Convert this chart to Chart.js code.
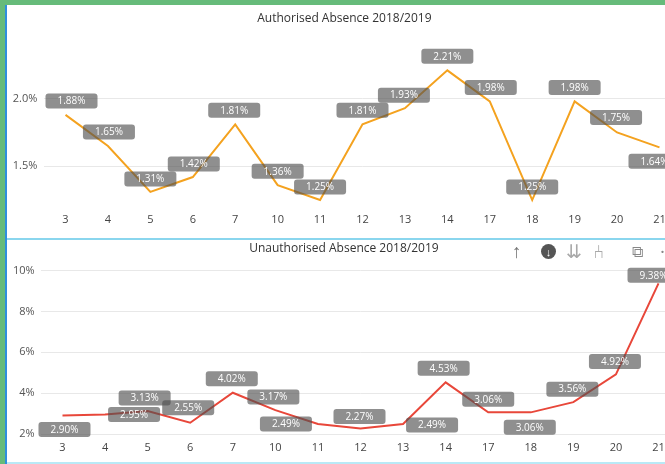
<!DOCTYPE html>
<html>
<head>
<meta charset="utf-8">
<script src="https://cdn.jsdelivr.net/npm/chart.js@4.4.1/dist/chart.umd.min.js"></script>
<style>
    html, body { margin: 0; padding: 0; width: 665px; height: 464px; overflow: hidden; background: #fff; }
    body { position: relative; font-family: "Open Sans", sans-serif; }
    .bar { position: absolute; }
    #frame-top { left: 0; top: 0; width: 665px; height: 5px; background: #66bb7a; }
    #frame-left { left: 0; top: 0; width: 5px; height: 464px; background: #66bb7a; }
    #edge-blue { left: 5px; top: 5px; width: 2px; height: 459px; background: #2f8fdd; }
    #sep { left: 7px; top: 238px; width: 658px; height: 2px; background: #8ad6ee; }
    #foot { left: 7px; top: 462px; width: 658px; height: 2px; background: #b9e9f6; }
    .panel { position: absolute; left: 8px; width: 676px; }
    #top-panel { top: 6px; height: 232px; }
    #bottom-panel { top: 241px; height: 221px; }
    .icon { position: absolute; top: 240px; font-size: 19px; color: #a8a8a8; line-height: 22px; }
    #ic-down { width: 15px; height: 15px; border-radius: 50%; background: #555; color: #fff;
               font-size: 11px; font-weight: bold; line-height: 15px; text-align: center; top: 244px; }
</style>
</head>
<body>
<div class="panel" id="top-panel"><canvas id="topChart"></canvas></div>
<div class="panel" id="bottom-panel"><canvas id="bottomChart"></canvas></div>
<div class="bar" id="frame-top"></div>
<div class="bar" id="frame-left"></div>
<div class="bar" id="edge-blue"></div>
<div class="bar" id="sep"></div>
<div class="bar" id="foot"></div>
<span class="icon" style="left:512px;color:#777">↑</span>
<span class="icon" id="ic-down" style="left:541px">↓</span>
<span class="icon" style="left:566px">⇊</span>
<span class="icon" style="left:593px">⑃</span>
<span class="icon" style="left:632px;color:#888;font-size:16px">⧉</span>
<span class="icon" style="left:660px;color:#888">·</span>
<script>
const weeks = ["3", "4", "5", "6", "7", "10", "11", "12", "13", "14", "17", "18", "19", "20", "21"];
const authorised = [1.88, 1.65, 1.31, 1.42, 1.81, 1.36, 1.25, 1.81, 1.93, 2.21, 1.98, 1.25, 1.98, 1.75, 1.64];
const unauthorised = [2.90, 2.95, 3.13, 2.55, 4.02, 3.17, 2.49, 2.27, 2.49, 4.53, 3.06, 3.06, 3.56, 4.92, 9.38];
const topTicks = [1.5, 2.0];
const bottomTicks = [2, 4, 6, 8, 10];

// where each value box sits relative to its point (px)
const topShifts = [[6,-14],[1,-14],[0,-13],[1,-13],[-1,-14],[0,-14],[0,-13],[0,-14],[-1,-13],[0,-14],[1,-14],[0,-13],[0,-14],[-1,-15],[-5,14]];
const bottomShifts = [[2,14],[29,0],[-3,-13],[-2,-15],[-1,-14],[-2,-13],[-32,0],[-1,-12],[29,1],[-2,-14],[0,-13],[-1,15],[-1,-13],[-1,-13],[-5,-8]];

Chart.defaults.font.family = "'Open Sans', sans-serif";
Chart.defaults.animation = false;

const boxLabels = {
    id: "boxLabels",
    afterDatasetsDraw(chart, args, opts) {
        const ctx = chart.ctx;
        const meta = chart.getDatasetMeta(0);
        const values = chart.data.datasets[0].data;
        ctx.save();
        ctx.font = "10px 'Open Sans'";
        ctx.textAlign = "center";
        ctx.textBaseline = "middle";
        meta.data.forEach((pt, i) => {
            const [dx, dy] = opts.shifts[i];
            const cx = pt.x + dx, cy = pt.y + dy;
            ctx.fillStyle = "rgba(80,80,80,0.64)";
            ctx.beginPath();
            ctx.roundRect(cx - 26, cy - 7.5, 52, 15, 3);
            ctx.fill();
            ctx.fillStyle = "#fff";
            ctx.fillText(values[i].toFixed(2) + "%", cx, cy + 0.5);
        });
        ctx.restore();
    }
};

function makeChart(id, opts) {
    return new Chart(document.getElementById(id), {
        type: "line",
        data: {
            labels: weeks,
            datasets: [{
                data: opts.values,
                borderColor: opts.color,
                borderWidth: 2,
                pointRadius: 0,
                tension: 0
            }]
        },
        options: {
            responsive: true,
            maintainAspectRatio: false,
            layout: { padding: { left: 0, right: opts.padRight, top: 0, bottom: opts.padBottom } },
            scales: {
                x: {
                    offset: true,
                    grid: { display: false, drawTicks: false },
                    border: { display: false },
                    ticks: { color: "#444", font: { size: 11 }, padding: opts.xPad, maxRotation: 0, autoSkip: false }
                },
                y: {
                    min: opts.min,
                    max: opts.max,
                    afterBuildTicks: s => { s.ticks = opts.ticks.map(v => ({ value: v })); },
                    afterFit: s => { s.width = opts.axisWidth; },
                    grid: { color: "#e8e8e8", drawTicks: false },
                    border: { display: false },
                    ticks: { color: "#555", font: { size: 11 }, padding: opts.yPad, callback: opts.fmt }
                }
            },
            plugins: {
                legend: { display: false },
                tooltip: { enabled: false },
                title: {
                    display: true,
                    text: opts.title,
                    color: "#333",
                    font: { size: 12, weight: "normal" },
                    padding: opts.titlePad
                },
                boxLabels: { shifts: opts.shifts }
            }
        },
        plugins: [boxLabels]
    });
}

makeChart("topChart", {
    values: authorised,
    color: "#f4a21f",
    title: "Authorised Absence 2018/2019",
    titlePad: { top: 5, bottom: 25.6 },
    min: 1.2132, max: 2.353,
    ticks: topTicks,
    fmt: v => v.toFixed(1) + "%",
    axisWidth: 36.3, padRight: 3.3, padBottom: 3.8,
    xPad: 8, yPad: 7,
    shifts: topShifts
});

makeChart("bottomChart", {
    values: unauthorised,
    color: "#e8473a",
    title: "Unauthorised Absence 2018/2019",
    titlePad: { top: 0, bottom: 7.3 },
    min: 2, max: 10.39,
    ticks: bottomTicks,
    fmt: v => v + "%",
    axisWidth: 33.2, padRight: 4.2, padBottom: 0.8,
    xPad: 7, yPad: 6.5,
    shifts: bottomShifts
});
</script>
</body>
</html>
